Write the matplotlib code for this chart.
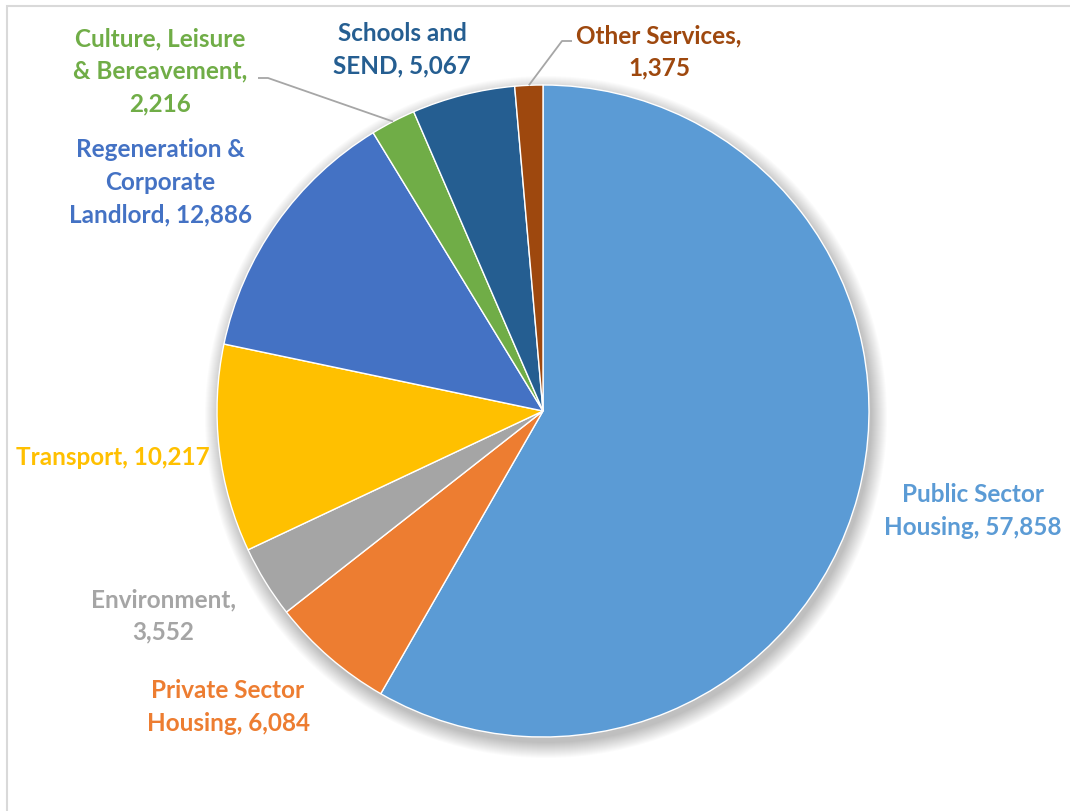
import matplotlib
matplotlib.use("Agg")
import matplotlib.pyplot as plt
import numpy as np
from matplotlib.patches import Circle, Rectangle

# Capital programme by service area (£000s)
categories = [
    "Public Sector\nHousing", "Private Sector\nHousing", "Environment,\n", "Transport",
    "Regeneration &\nCorporate\nLandlord", "Culture, Leisure\n& Bereavement,\n",
    "Schools and\nSEND", "Other Services,\n",
]
values = [57858, 6084, 3552, 10217, 12886, 2216, 5067, 1375]
colors = ["#5B9BD5", "#ED7D31", "#A5A5A5", "#FFC000", "#4472C4", "#70AD47",
          "#255E91", "#9E480E"]

W, H = 1070, 812
CX, CY, R = 543, H - 412, 326

# label anchor (pixel coords, y from top) and leader-line start where drawn
label_pos = [(973, 511), (228, 707), (163, 616), (113, 458), (160, 182),
             (160, 71), (402, 50), (659, 52)]
leader = [None, None, None, None, None, (258, 79), None, (572, 42)]

plt.rcParams["font.family"] = ["Lato", "DejaVu Sans"]
fig = plt.figure(figsize=(W / 100, H / 100), dpi=100)
ax = fig.add_axes([0, 0, 1, 1])

# chart-area border
ax.add_patch(Rectangle((7, -10), W + 20, H - 7 + 10, fill=False,
                       edgecolor="#D9D9D9", lw=1.5))

# soft drop shadow under the pie
for i in range(16):
    ax.add_patch(Circle((CX + 3, CY - 6), R + 15 - i, color="black",
                        alpha=0.014, lw=0, zorder=1))

wedges, _ = ax.pie(values, colors=colors, startangle=90, counterclock=False,
                   center=(CX, CY), radius=R, frame=True,
                   wedgeprops=dict(edgecolor="white", linewidth=1, zorder=2))
ax.set_xlim(0, W)
ax.set_ylim(0, H)
ax.set_aspect("equal")
ax.axis("off")

for w, cat, val, col, (lx, ly), ld in zip(wedges, categories, values, colors,
                                          label_pos, leader):
    sep = "" if cat.endswith("\n") else ", "
    ax.text(lx, H - ly, f"{cat}{sep}{val:,}", color=col, fontsize=17.5,
            fontweight="bold", ha="center", va="center", linespacing=1.5,
            zorder=5)
    if ld is not None:
        mid = np.deg2rad((w.theta1 + w.theta2) / 2)
        ex, ey = CX + R * np.cos(mid), CY + R * np.sin(mid)
        sx, sy = ld[0], H - ld[1]
        step = 10 if sx < ex else -10
        ax.plot([sx, sx + step, ex], [sy, sy, ey], color="#A6A6A6", lw=1.3,
                zorder=4, solid_capstyle="butt")

fig.savefig("out.png", dpi=100, facecolor="white")
